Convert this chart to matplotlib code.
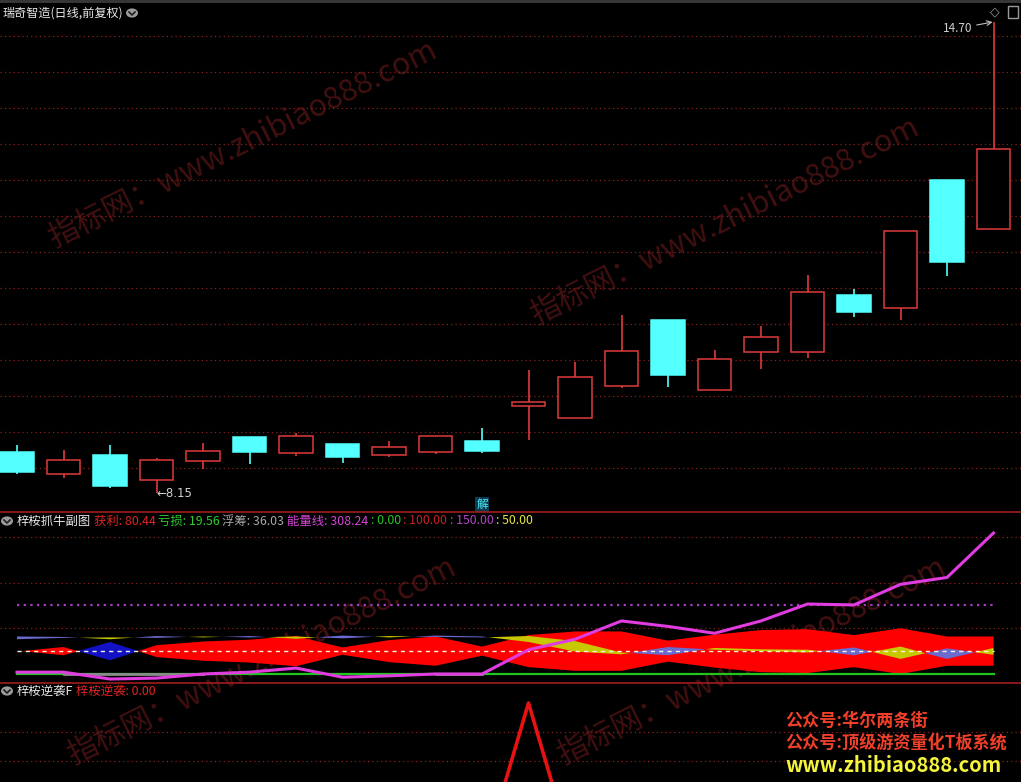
import numpy as np
import matplotlib
matplotlib.use("Agg")
import matplotlib.pyplot as plt
from matplotlib.patches import Circle, Rectangle
from matplotlib.lines import Line2D

plt.rcParams["font.family"] = ["Noto Sans CJK SC", "DejaVu Sans"]

W, H = 1021, 782

# ---- main panel: daily candles ----
opens  = [8.71, 8.42, 8.67, 8.33, 8.59, 8.92, 8.70, 8.82, 8.68, 8.72, 8.86,
          9.36, 9.19, 9.64, 10.54, 9.58, 10.11, 10.11, 10.90, 10.72, 12.50, 11.82]
closes = [8.44, 8.60, 8.25, 8.60, 8.72, 8.72, 8.93, 8.65, 8.78, 8.93, 8.74,
          9.40, 9.75, 10.11, 9.79, 10.00, 10.31, 10.93, 10.67, 11.78, 11.36, 12.92]
highs  = [8.82, 8.75, 8.82, 8.64, 8.85, 8.92, 8.98, 8.82, 8.87, 8.93, 9.05,
          9.86, 9.97, 10.63, 10.56, 10.14, 10.47, 11.18, 10.99, 11.78, 12.50, 14.70]
lows   = [8.41, 8.36, 8.22, 8.15, 8.49, 8.56, 8.66, 8.57, 8.65, 8.69, 8.71,
          8.89, 9.19, 9.61, 9.62, 9.58, 9.87, 10.03, 10.60, 10.56, 11.17, 11.82]
price_grid = [8.5, 9.0, 9.5, 10.0, 10.5, 11.0, 11.5, 12.0, 12.5, 13.0, 13.5, 14.0, 14.5]

# ---- sub panel: 梓桉抓牛副图 ----
energy = [4, 4, -11, -9, 0, 4, 13, -7, -4, 0, 0,
          53, 76, 116, 104, 89, 116, 153, 151, 196, 211, 308.24]
chip = [49, 59, 30, 63, 71, 75, 83, 58, 74, 82, 60,
        85, 93, 93, 73, 86, 96, 98, 85, 100, 82, 82]
band_u = [76, 79, 80, 79, 82, 80, 82, 78, 83, 81, 80,
          83, 72, 47, 41, 57, 54, 53, 41, 60, 33, 57]
band_l = [82, 81, 76, 83, 80, 83, 77, 84, 80, 84, 82,
          70, 49, 43, 59, 53, 50, 47, 58, 33, 56, 42]
gray_line = [np.nan, 1, 1, 1, 1, np.nan, np.nan, np.nan, np.nan, 1, 1,
             np.nan, np.nan, np.nan, np.nan, np.nan, np.nan, np.nan, np.nan, np.nan, np.nan, np.nan]
sub_grid = [100, 200, 300]
header2 = [("梓桉抓牛副图", "#e8e8e8"), ("获利: 80.44", "#e02424"), ("亏损: 19.56", "#2ecc2e"),
           ("浮筹: 36.03", "#a8a8a8"), ("能量线: 308.24", "#d844d8"), (": 0.00", "#22c422"),
           (": 100.00", "#c42222"), (": 150.00", "#b044c4"), (": 50.00", "#e4e448")]

# ---- bottom panel: 梓桉逆袭F ----
nixi = [0] * 22
nixi[11] = 100
nixi_grid = [63.3, 81.6]
header3 = [("梓桉逆袭F", "#e8e8e8"), ("梓桉逆袭: 0.00", "#e02424")]

promo = ["公众号:华尔两条街", "公众号:顶级游资量化T板系统", "www.zhibiao888.com"]
watermark = "指标网：www.zhibiao888.com"

idx = np.arange(len(opens))
opens, closes, highs, lows = map(np.array, (opens, closes, highs, lows))

fig = plt.figure(figsize=(W / 100, H / 100), dpi=100, facecolor="black")


def px_axes(top, bottom):
    ax = fig.add_axes([0, 1 - bottom / H, 1, (bottom - top) / H])
    ax.set_facecolor("none")
    ax.set_xticks([])
    ax.set_yticks([])
    for s in ax.spines.values():
        s.set_visible(False)
    ax.set_xlim(-17 / 46.5, (W - 17) / 46.5)
    return ax


ax1 = px_axes(0, 512)
ax2 = px_axes(512, 683)
ax3 = px_axes(683, 782)

grid_kw = dict(color="#8a2020", lw=0.9, ls=(0, (1, 2.5)), zorder=1)

# main panel
ax1.set_ylim(8.15 - 19 / 71.9, 8.15 + 493 / 71.9)
for g in price_grid:
    ax1.axhline(g, **grid_kw)
up = closes >= opens
red, cyan = "#e03a3a", "#54ffff"
colors = np.where(up, red, cyan)
ax1.vlines(idx, lows, highs, colors=colors, lw=1.2, zorder=2)
ax1.bar(idx, np.abs(closes - opens) + 0.01, bottom=np.minimum(opens, closes), width=0.73,
        color=np.where(up, "black", cyan), edgecolor=colors, lw=1.1, zorder=3)
ax1.annotate("14.70", xy=(idx[-1] - 0.02, highs[-1]), xytext=(20.55, highs[-1] - 0.09),
             color="#d0d0d0", fontsize=8.5, ha="right", va="center",
             arrowprops=dict(arrowstyle="->", color="#c0c0c0", lw=0.8,
                             shrinkA=1, shrinkB=0))
ax1.text(3.0, lows[3], "←8.15", color="#d0d0d0", fontsize=8.5, ha="left", va="center",
         family=["DejaVu Sans"])
ax1.text(10, 7.99, "解", color="#50e8f0", fontsize=8.5, ha="center", va="center",
         bbox=dict(boxstyle="square,pad=0.1", fc="#0c3a52", ec="none"))

# sub panel
ax2.set_ylim(-9 / 0.4575, 162 / 0.4575)
ax2.spines["top"].set_visible(True)
ax2.spines["top"].set_color("#a01c1c")
ax2.spines["top"].set_linewidth(1.2)
for g in sub_grid:
    ax2.axhline(g, **grid_kw)
chip = np.array(chip, float)
mirror = 100 - chip
ax2.fill_between(idx, mirror, chip, where=chip >= mirror, interpolate=True,
                 color="#ff0000", lw=0, zorder=2)
ax2.fill_between(idx, mirror, chip, where=chip <= mirror, interpolate=True,
                 color="#1212c4", lw=0, zorder=2)
band_u = np.array(band_u, float)
band_l = np.array(band_l, float)
ax2.fill_between(idx, band_l, band_u, where=band_u >= band_l, interpolate=True,
                 color="#c8c800", lw=0, zorder=3)
ax2.fill_between(idx, band_l, band_u, where=band_u <= band_l, interpolate=True,
                 color="#6a6ad0", lw=0, zorder=3)
ax2.plot(idx, [150] * len(idx), color="#a83cc8", lw=1.6, ls=(0, (1, 2)), zorder=4)
ax2.plot(idx, [50] * len(idx), color="#f4f4dc", lw=1.0, ls=(0, (3, 3)), zorder=4)
ax2.plot(idx, [0] * len(idx), color="#22c422", lw=1.6, zorder=4)
ax2.plot(idx, gray_line, color="#8a8a8a", lw=2, zorder=4)
ax2.plot(idx, energy, color="#e03ce0", lw=2.2, zorder=5)

# bottom panel
ax3.set_ylim(79 / 1.58, 178 / 1.58)
ax3.spines["top"].set_visible(True)
ax3.spines["top"].set_color("#a01c1c")
ax3.spines["top"].set_linewidth(1.2)
for g in nixi_grid:
    ax3.axhline(g, **grid_kw)
ax3.plot(idx, nixi, color="#e81212", lw=2.6, zorder=4)

# watermarks
for cx, cy in [(243, 145), (725, 222), (262, 662), (752, 662)]:
    fig.text(cx / W, 1 - cy / H, watermark, color="#421010", fontsize=22, rotation=26.5,
             ha="center", va="center", rotation_mode="anchor", zorder=-1)

renderer = fig.canvas.get_renderer()


def seq_text(x_px, y_px, parts, size=9, gap=3):
    x = x_px
    for s, c in parts:
        t = fig.text(x / W, 1 - y_px / H, s, color=c, fontsize=size, ha="left", va="center")
        x += t.get_window_extent(renderer).width + gap


def icon(x_px, y_px):
    fig.add_artist(Circle((x_px / W, 1 - y_px / H), 6 / W, transform=fig.transFigure,
                          fc="#9c9c9c", ec="none"))
    fig.add_artist(Line2D([(x_px - 3) / W, x_px / W, (x_px + 3) / W],
                          [1 - (y_px - 1) / H, 1 - (y_px + 2) / H, 1 - (y_px - 1) / H],
                          color="#202020", lw=1.2))


seq_text(2, 13, [("瑞奇智造(日线,前复权)", "#e8e8e8")], size=8.7)
icon(132, 13)
icon(7, 521)
seq_text(17, 521, header2, size=8.9, gap=2.5)
icon(7, 691)
seq_text(17, 691, header3, size=8.9)

fig.text(995 / W, 1 - 12 / H, "◇", color="#9a9a9a", fontsize=9, ha="center", va="center",
         family=["DejaVu Sans"])
fig.add_artist(Rectangle((1008 / W, 1 - 18 / H), 10 / W, 12 / H, transform=fig.transFigure,
                         fc="none", ec="#9a9a9a", lw=1))
fig.add_artist(Line2D([0, 1], [1 - 1 / H, 1 - 1 / H], color="#3a3a3a", lw=2))

fig.text(785 / W, 1 - 721 / H, promo[0], color="#f0402a", fontsize=12.3, weight="bold",
         ha="left", va="center")
fig.text(785 / W, 1 - 743 / H, promo[1], color="#f0402a", fontsize=12.3, weight="bold",
         ha="left", va="center")
fig.text(785 / W, 1 - 766 / H, promo[2], color="#f4f43c", fontsize=14.5, weight="bold",
         ha="left", va="center")

fig.savefig("out.png", dpi=100, facecolor="black")
